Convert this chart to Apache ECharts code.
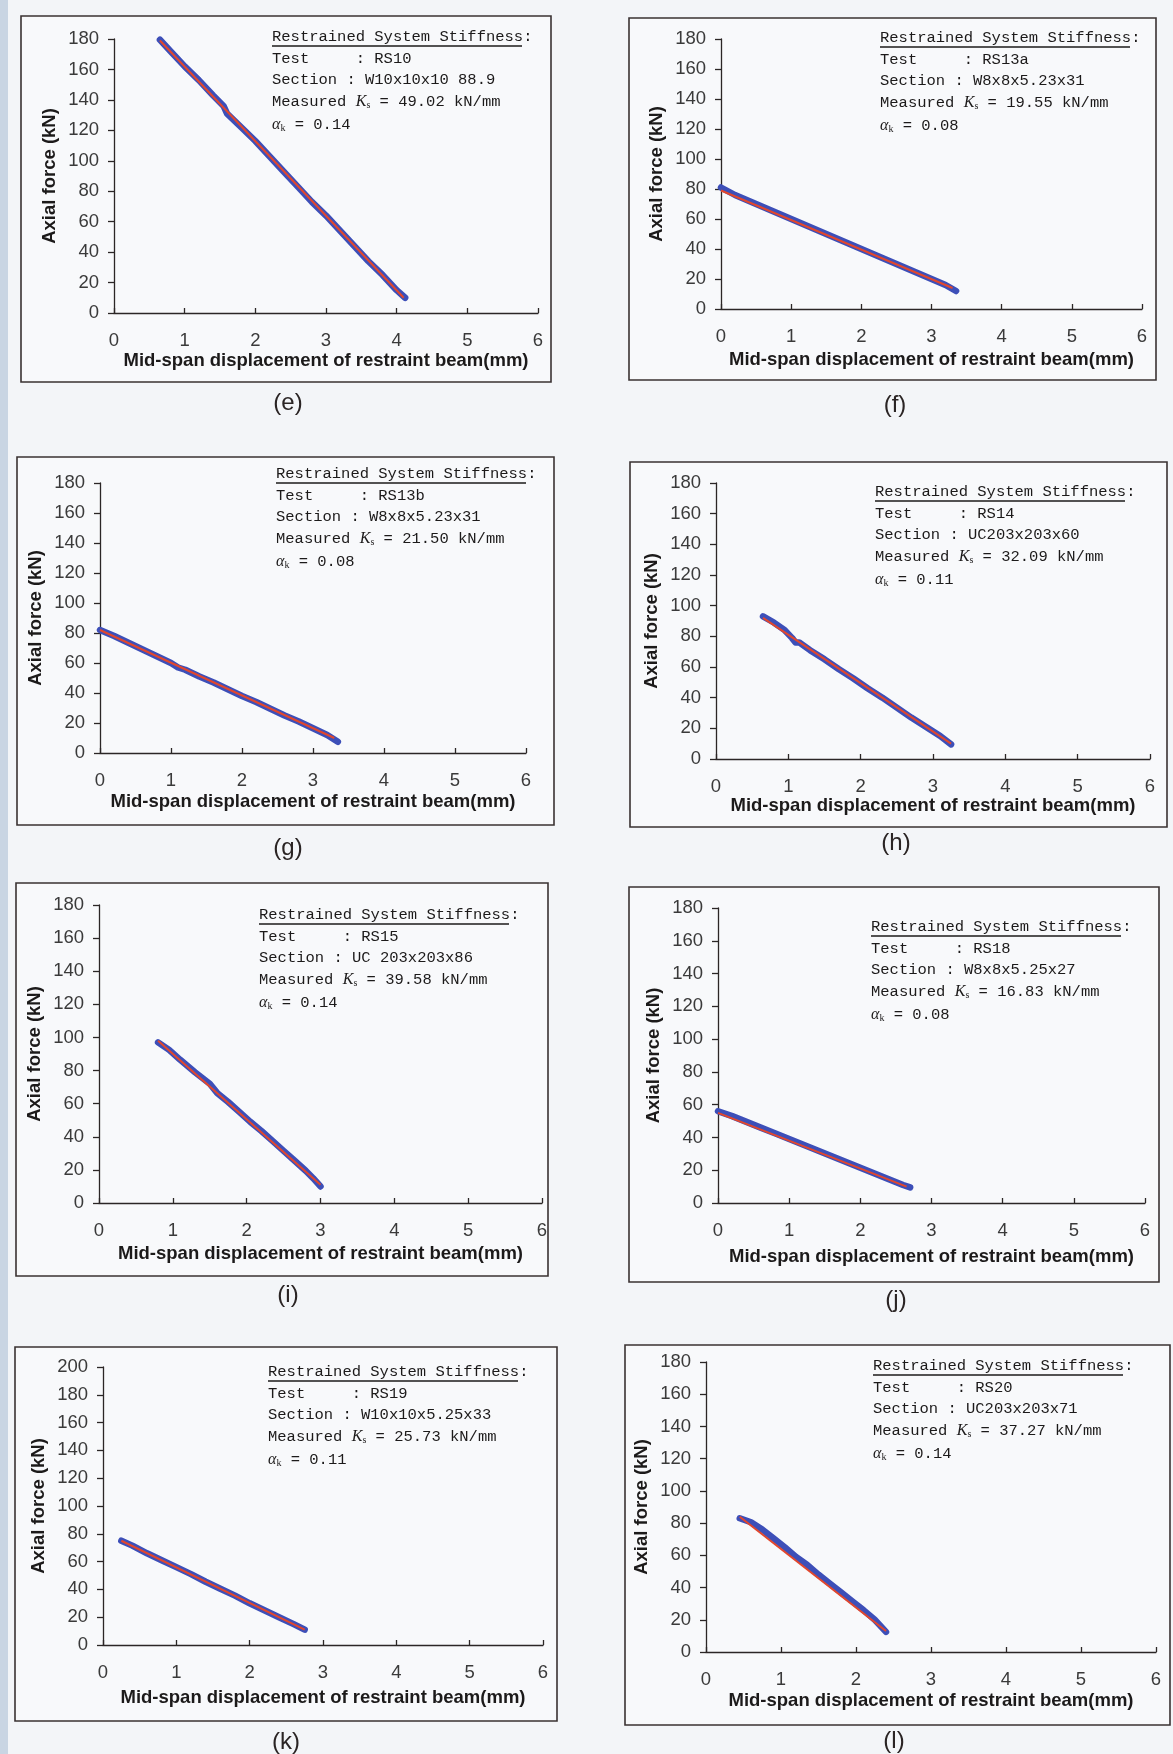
<!DOCTYPE html>
<html>
<head>
<meta charset="utf-8">
<script src="https://cdn.jsdelivr.net/npm/echarts@6/dist/echarts.min.js"></script>
<style>
html, body { margin: 0; padding: 0; background: #f2f4f7; }
#page { width: 1173px; height: 1754px; }
</style>
</head>
<body>
<div id="page"></div>
<script>
// measured points (displacement mm, axial force kN)
var rs10X = [0.65, 0.8, 1.0, 1.2, 1.4, 1.55, 1.6, 1.8, 2.0, 2.2, 2.4, 2.6, 2.8, 3.0, 3.2, 3.4, 3.6, 3.8, 4.0, 4.12];
var rs10Y = [179.5, 172, 162, 153, 143, 136, 131, 122, 113, 103, 93, 83, 73, 64, 54, 44, 34, 25, 15, 10];
var rs13aX = [0, 0.2, 0.4, 0.6, 0.8, 1.0, 1.2, 1.4, 1.6, 1.8, 2.0, 2.2, 2.4, 2.6, 2.8, 3.0, 3.2, 3.35];
var rs13aY = [81, 76, 72, 68, 64, 60, 56, 52, 48, 44, 40, 36, 32, 28, 24, 20, 16, 12];
var rs13bX = [0, 0.2, 0.4, 0.6, 0.8, 1.0, 1.1, 1.2, 1.4, 1.6, 1.8, 2.0, 2.2, 2.4, 2.6, 2.8, 3.0, 3.2, 3.35];
var rs13bY = [82, 78, 73.5, 69, 64.5, 60, 57, 55.5, 51, 47, 42.5, 38, 34, 29.5, 25, 21, 16.5, 12, 7.5];
var rs14X = [0.65, 0.8, 0.95, 1.05, 1.1, 1.15, 1.3, 1.5, 1.7, 1.9, 2.1, 2.3, 2.5, 2.7, 2.9, 3.1, 3.25];
var rs14Y = [93, 89, 84, 79, 76, 76, 71, 65, 58.5, 52.5, 46, 40, 33.5, 27, 21, 15, 9.5];
var rs15X = [0.8, 0.95, 1.1, 1.3, 1.5, 1.6, 1.75, 1.9, 2.05, 2.2, 2.35, 2.5, 2.65, 2.8, 2.9, 3.0];
var rs15Y = [97, 92.5, 86.5, 79, 72, 66.5, 61, 55, 49, 43.5, 37.5, 31.5, 25.5, 19.5, 15, 10];
var rs18X = [0, 0.2, 0.4, 0.6, 0.8, 1.0, 1.2, 1.4, 1.6, 1.8, 2.0, 2.2, 2.4, 2.6, 2.7];
var rs18Y = [56, 53, 49.5, 46, 42.5, 39, 35.5, 32, 28.5, 25, 21.5, 18, 14.5, 11, 9.5];
var rs19X = [0.25, 0.4, 0.6, 0.8, 1.0, 1.2, 1.4, 1.6, 1.8, 2.0, 2.2, 2.4, 2.6, 2.75];
var rs19Y = [75, 71.5, 66, 61, 56, 51, 45.5, 40.5, 35.5, 30, 25, 20, 15, 11];
var rs20X = [0.45, 0.6, 0.75, 0.9, 1.05, 1.2, 1.35, 1.5, 1.65, 1.8, 1.95, 2.1, 2.25, 2.4];
var rs20Y = [83, 80.5, 76, 70.5, 65, 59, 54, 48, 42.5, 37, 31.5, 26, 20, 12.5];

// linear fits (end points of the red line)
var fitX = [[0.65, 4.1], [0, 3.3], [0, 3.3], [0.65, 3.25], [0.8, 3.0], [0, 2.65], [0.25, 2.75], [0.45, 2.4]];
var fitY = [[179, 10], [79, 14], [82, 10], [92, 10], [98, 11], [55, 10], [75, 11], [84, 13]];

var panelLetters = ["(e)", "(f)", "(g)", "(h)", "(i)", "(j)", "(k)", "(l)"];
var tests = ["RS10", "RS13a", "RS13b", "RS14", "RS15", "RS18", "RS19", "RS20"];
var sections = ["W10x10x10 88.9", "W8x8x5.23x31", "W8x8x5.23x31", "UC203x203x60", "UC 203x203x86", "W8x8x5.25x27", "W10x10x5.25x33", "UC203x203x71"];
var stiffness = ["49.02", "19.55", "21.50", "32.09", "39.58", "16.83", "25.73", "37.27"];
var alphas = ["0.14", "0.08", "0.08", "0.11", "0.14", "0.08", "0.11", "0.14"];
var yMax = [180, 180, 180, 180, 180, 180, 200, 180];
var xTickMax = 6;

var measured = [[rs10X, rs10Y], [rs13aX, rs13aY], [rs13bX, rs13bY], [rs14X, rs14Y],
                [rs15X, rs15Y], [rs18X, rs18Y], [rs19X, rs19Y], [rs20X, rs20Y]];

// layout: frame box, plot box, note origin, panel label centre, x-name gap
var frames = [[21, 16, 530, 366], [629, 18, 527, 362], [17, 457, 537, 368], [630, 462, 537, 365],
              [16, 883, 532, 393], [629, 887, 530, 395], [15, 1347, 542, 374], [625, 1345, 545, 380]];
var plots = [[114, 39, 424, 274], [721, 39, 421, 270], [100, 483, 426, 270], [716, 483, 434, 276],
             [99, 905, 443, 298], [718, 908, 427, 295], [103, 1367, 440, 278], [706, 1362, 450, 290]];
var notes = [[272, 37], [880, 38], [276, 474], [875, 492], [259, 915], [871, 927], [268, 1372], [873, 1366]];
var labels = [[288, 403], [895, 405], [288, 848], [896, 843], [288, 1295], [896, 1300], [286, 1742], [894, 1741]];
var xNameGap = [38, 41, 39.5, 36, 41, 44, 43, 39.5];

var chart = echarts.init(document.getElementById('page'));

function zip(xs, ys) {
  var out = [];
  for (var i = 0; i < xs.length; i++) out.push([xs[i], ys[i]]);
  return out;
}

var grid = [], xAxis = [], yAxis = [], series = [], graphic = [];
var axisCol = '#2b2626';
var mono = '"Liberation Mono", "DejaVu Sans Mono", monospace';
var ink = '#1c1a1a';

// bluish strip at the left edge of the scanned page
graphic.push({
  type: 'rect', silent: true, z: -2,
  shape: { x: 0, y: 0, width: 8, height: 1754 },
  style: { fill: '#c9d5e3' }
});

for (var i = 0; i < 8; i++) {
  var p = plots[i], f = frames[i];

  graphic.push({
    type: 'rect', silent: true, z: -1,
    shape: { x: f[0], y: f[1], width: f[2], height: f[3] },
    style: { fill: '#f8f9fb', stroke: '#3a3232', lineWidth: 1.6 }
  });

  grid.push({ left: p[0], top: p[1], width: p[2], height: p[3], containLabel: false });

  xAxis.push({
    type: 'value', gridIndex: i, min: 0, max: xTickMax, interval: 1,
    name: 'Mid-span displacement of restraint beam(mm)',
    nameLocation: 'middle', nameGap: xNameGap[i],
    nameTextStyle: { fontFamily: 'Liberation Sans', fontWeight: 'bold', fontSize: 18.5, color: ink },
    axisLine: { show: true, onZero: false, lineStyle: { color: axisCol, width: 1.3 } },
    axisTick: { show: true, inside: true, length: 5, lineStyle: { color: axisCol, width: 1.3 } },
    axisLabel: { margin: 18, fontFamily: 'Liberation Sans', fontSize: 18.5, color: '#3a3a3a' },
    splitLine: { show: false }
  });

  yAxis.push({
    type: 'value', gridIndex: i, min: 0, max: yMax[i], interval: 20,
    name: 'Axial force (kN)',
    nameLocation: 'middle', nameGap: 55, nameRotate: 90,
    nameTextStyle: { fontFamily: 'Liberation Sans', fontWeight: 'bold', fontSize: 18.5, color: ink },
    axisLine: { show: true, onZero: false, lineStyle: { color: axisCol, width: 1.3 } },
    axisTick: { show: true, length: 6, lineStyle: { color: axisCol, width: 1.3 } },
    axisLabel: { margin: 15, fontFamily: 'Liberation Sans', fontSize: 18.5, color: '#3a3a3a' },
    splitLine: { show: false }
  });

  series.push({
    type: 'line', xAxisIndex: i, yAxisIndex: i,
    data: zip(measured[i][0], measured[i][1]),
    showSymbol: false, smooth: false,
    lineStyle: { color: '#3d4fb8', width: 6.5, cap: 'round', join: 'round' },
    z: 2
  });
  series.push({
    type: 'line', xAxisIndex: i, yAxisIndex: i,
    data: zip(fitX[i], fitY[i]),
    showSymbol: false,
    lineStyle: { color: '#e2472d', width: 2 },
    z: 3
  });

  // annotation box
  var n = notes[i];
  var lines = [
    '{m|Test     : ' + tests[i] + '}',
    '{m|Section : ' + sections[i] + '}',
    '{m|Measured }{k|K}{s|s}{m| = ' + stiffness[i] + ' kN/mm}',
    '{k|\u03b1}{s|k}{m| = ' + alphas[i] + '}'
  ];
  var rich = {
    m: { fontFamily: mono, fontSize: 15.5, fill: ink },
    k: { fontFamily: '"Liberation Serif", serif', fontStyle: 'italic', fontSize: 16, fill: ink },
    s: { fontFamily: '"Liberation Serif", serif', fontSize: 10, fill: ink, padding: [7, 0, 0, 0] }
  };
  graphic.push({
    type: 'text', silent: true, x: n[0], y: n[1], z: 5,
    style: { text: 'Restrained System Stiffness:', font: '15.5px ' + mono, fill: ink, verticalAlign: 'middle' }
  });
  graphic.push({
    type: 'line', silent: true, z: 5,
    shape: { x1: n[0], y1: n[1] + 9, x2: n[0] + 250, y2: n[1] + 9 },
    style: { stroke: ink, lineWidth: 1.3 }
  });
  var gaps = [21.5, 43, 65, 88];
  for (var j = 0; j < 4; j++) {
    graphic.push({
      type: 'text', silent: true, x: n[0], y: n[1] + gaps[j], z: 5,
      style: { text: lines[j], rich: rich, verticalAlign: 'middle', fill: ink }
    });
  }

  graphic.push({
    type: 'text', silent: true, x: labels[i][0], y: labels[i][1], z: 5,
    style: { text: panelLetters[i], font: '24px "Liberation Sans"', fill: '#2a2424', align: 'center', verticalAlign: 'middle' }
  });
}

chart.setOption({
  backgroundColor: '#f3f5f8',
  animation: false,
  grid: grid,
  xAxis: xAxis,
  yAxis: yAxis,
  series: series,
  graphic: graphic
});
</script>
</body>
</html>
